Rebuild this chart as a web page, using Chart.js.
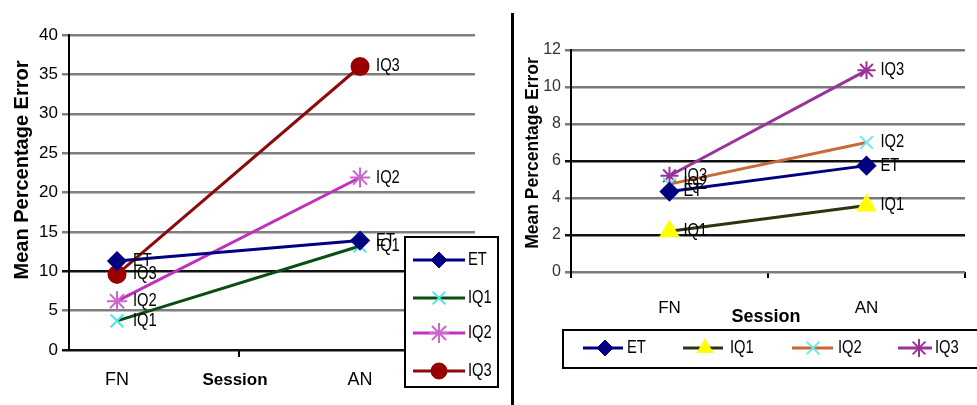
<!DOCTYPE html>
<html>
<head>
<meta charset="utf-8">
<script src="https://cdn.jsdelivr.net/npm/chart.js@4.4.0/dist/chart.umd.min.js"></script>
<style>
  body { margin: 0; background: #fff; width: 977px; height: 405px; overflow: hidden; position: relative; }
  #left { position: absolute; left: 0; top: 0; }
  #right { position: absolute; left: 515px; top: 0; }
  #divider { position: absolute; left: 511px; top: 13px; width: 3px; height: 392px; background: #000; }
</style>
</head>
<body>
<canvas id="left" width="500" height="405"></canvas>
<div id="divider"></div>
<canvas id="right" width="462" height="405"></canvas>
<script>
var sessions = ['FN', 'AN'];
var seriesNames = ['ET', 'IQ1', 'IQ2', 'IQ3'];

// left chart values
var leftET = [11.3, 13.9];
var leftIQ1 = [3.7, 13.2];
var leftIQ2 = [6.2, 21.9];
var leftIQ3 = [9.6, 36.0];

// right chart values
var rightET = [4.35, 5.75];
var rightIQ1 = [2.2, 3.6];
var rightIQ2 = [4.75, 7.0];
var rightIQ3 = [5.2, 10.9];

var NARROW = "'Liberation Sans Narrow', 'Arial Narrow', 'Liberation Sans', sans-serif";
var BOLD = "'Liberation Sans', Arial, sans-serif";
var SQUEEZE = 0.82; // no narrow face installed, so squeeze text horizontally

function narrowText(ctx, text, x, y) {
  ctx.save();
  ctx.translate(x, y);
  ctx.scale(SQUEEZE, 1);
  ctx.fillText(text, 0, 0);
  ctx.restore();
}

// label each point with its series name
function pointLabels(font, dx) {
  return {
    id: 'pointLabels',
    afterDatasetsDraw: function (chart) {
      var ctx = chart.ctx;
      ctx.save();
      ctx.font = font;
      ctx.fillStyle = '#000';
      ctx.textBaseline = 'middle';
      chart.data.datasets.forEach(function (ds, i) {
        chart.getDatasetMeta(i).data.forEach(function (pt) {
          narrowText(ctx, ds.label, pt.x + dx, pt.y);
        });
      });
      ctx.restore();
    }
  };
}

// axis titles
function texts(list) {
  return {
    id: 'texts',
    afterDraw: function (chart) {
      var ctx = chart.ctx;
      list.forEach(function (t) {
        ctx.save();
        ctx.font = t.font;
        ctx.fillStyle = '#000';
        ctx.textAlign = 'center';
        ctx.textBaseline = 'middle';
        ctx.translate(t.x, t.y);
        if (t.rotate) ctx.rotate(-Math.PI / 2);
        ctx.fillText(t.text, 0, 0);
        ctx.restore();
      });
    }
  };
}

// legend box drawn where Excel had it
function legendBox(box, items, font) {
  return {
    id: 'legendBox',
    afterDraw: function (chart) {
      var ctx = chart.ctx;
      ctx.save();
      ctx.fillStyle = '#fff';
      ctx.fillRect(box.x, box.y, box.w, box.h);
      ctx.strokeStyle = '#000';
      ctx.lineWidth = 2;
      ctx.strokeRect(box.x, box.y, box.w, box.h);
      items.forEach(function (it, i) {
        var ds = chart.data.datasets[i];
        ctx.strokeStyle = ds.borderColor;
        ctx.lineWidth = 3;
        ctx.beginPath();
        ctx.moveTo(it.x1, it.y);
        ctx.lineTo(it.x2, it.y);
        ctx.stroke();
        ctx.fillStyle = ds.pointBackgroundColor;
        ctx.strokeStyle = ds.pointBorderColor;
        ctx.lineWidth = ds.pointBorderWidth || 1;
        Chart.helpers.drawPoint(ctx, { pointStyle: ds.pointStyle, radius: ds.pointRadius, rotation: 0, borderWidth: ds.pointBorderWidth || 1 }, it.m, it.y);
        ctx.fillStyle = '#000';
        ctx.font = font;
        ctx.textBaseline = 'middle';
        narrowText(ctx, ds.label, it.t, it.y);
      });
      ctx.restore();
    }
  };
}

function toXY(arr) {
  return arr.map(function (v, i) { return { x: i, y: v }; });
}

// ---------- left chart ----------
new Chart(document.getElementById('left').getContext('2d'), {
  type: 'line',
  data: {
    datasets: [
      { label: seriesNames[0], data: toXY(leftET), borderColor: '#000080', borderWidth: 3,
        pointStyle: 'rectRot', pointRadius: 8, pointBackgroundColor: '#000080', pointBorderColor: '#000080' },
      { label: seriesNames[1], data: toXY(leftIQ1), borderColor: '#0b4d12', borderWidth: 3,
        pointStyle: 'crossRot', pointRadius: 9, pointBorderWidth: 2, pointBackgroundColor: '#4de8e8', pointBorderColor: '#4de8e8' },
      { label: seriesNames[2], data: toXY(leftIQ2), borderColor: '#c030c0', borderWidth: 3,
        pointStyle: 'star', pointRadius: 10, pointBorderWidth: 2, pointBackgroundColor: '#cc66cc', pointBorderColor: '#cc66cc' },
      { label: seriesNames[3], data: toXY(leftIQ3), borderColor: '#8b0a0a', borderWidth: 3,
        pointStyle: 'circle', pointRadius: 8, pointBackgroundColor: '#990000', pointBorderColor: '#990000' }
    ]
  },
  options: {
    responsive: false,
    animation: false,
    layout: { padding: { top: 35, right: 25, left: 0, bottom: 0 } },
    plugins: { legend: { display: false }, tooltip: { enabled: false } },
    scales: {
      x: {
        type: 'linear', min: -0.1975, max: 1.473,
        afterBuildTicks: function (s) { s.ticks = [{ value: 0 }, { value: 0.5 }, { value: 1 }]; },
        afterFit: function (s) { s.height = 55; },
        grid: { drawOnChartArea: false, tickLength: 7, lineWidth: 2,
          color: function (c) { return c.tick && c.tick.value === 0.5 ? '#000' : 'rgba(0,0,0,0)'; } },
        border: { display: false },
        ticks: { autoSkip: false, maxRotation: 0, padding: 12, color: '#000',
          font: { family: NARROW, size: 18 },
          callback: function (v) { return v === 0 ? sessions[0] : v === 1 ? sessions[1] : ''; } }
      },
      y: {
        min: 0, max: 40,
        afterFit: function (s) { s.width = 69; },
        grid: { lineWidth: 2.5, tickLength: 7,
          color: function (c) { return c.tick && (c.tick.value === 10 || c.tick.value === 0) ? '#111' : '#7f7f7f'; } },
        border: { color: '#000', width: 2 },
        ticks: { stepSize: 5, padding: 4, color: '#000', font: { family: NARROW, size: 17 } }
      }
    }
  },
  plugins: [
    pointLabels('18px ' + NARROW, 16),
    texts([
      { text: 'Mean Percentage Error', x: 22, y: 170, font: 'bold 20px ' + BOLD, rotate: true },
      { text: 'Session', x: 235, y: 380, font: 'bold 17px ' + BOLD }
    ]),
    legendBox({ x: 405, y: 237, w: 93, h: 150 }, [
      { y: 260, x1: 413, x2: 465, m: 439, t: 468 },
      { y: 298, x1: 413, x2: 465, m: 439, t: 468 },
      { y: 333, x1: 413, x2: 465, m: 439, t: 468 },
      { y: 371, x1: 413, x2: 465, m: 439, t: 468 }
    ], '18px ' + NARROW)
  ]
});

// ---------- right chart ----------
new Chart(document.getElementById('right').getContext('2d'), {
  type: 'line',
  data: {
    labels: sessions,
    datasets: [
      { label: seriesNames[0], data: rightET, borderColor: '#000080', borderWidth: 3,
        pointStyle: 'rectRot', pointRadius: 8, pointBackgroundColor: '#000080', pointBorderColor: '#000080' },
      { label: seriesNames[1], data: rightIQ1, borderColor: '#2e3310', borderWidth: 3,
        pointStyle: 'triangle', pointRadius: 9, pointBackgroundColor: '#ffff00', pointBorderColor: '#ffff00' },
      { label: seriesNames[2], data: rightIQ2, borderColor: '#c86a35', borderWidth: 3,
        pointStyle: 'crossRot', pointRadius: 9, pointBorderWidth: 2, pointBackgroundColor: '#66eeee', pointBorderColor: '#66eeee' },
      { label: seriesNames[3], data: rightIQ3, borderColor: '#993399', borderWidth: 3,
        pointStyle: 'star', pointRadius: 9, pointBorderWidth: 2, pointBackgroundColor: '#993399', pointBorderColor: '#993399' }
    ]
  },
  options: {
    responsive: false,
    animation: false,
    layout: { padding: { top: 50, right: 2, left: 0, bottom: 0 } },
    plugins: { legend: { display: false }, tooltip: { enabled: false } },
    scales: {
      x: {
        offset: true,
        afterFit: function (s) { s.height = 133; },
        grid: { offset: true, drawOnChartArea: false, tickLength: 6, lineWidth: 2, color: '#000' },
        border: { display: false },
        ticks: { padding: 20, color: '#000', font: { family: NARROW, size: 17 } }
      },
      y: {
        min: 0, max: 12,
        afterFit: function (s) { s.width = 56; },
        grid: { lineWidth: 2.5, tickLength: 6,
          color: function (c) { return c.tick && (c.tick.value === 6 || c.tick.value === 2) ? '#111' : '#7a7a7a'; } },
        border: { color: '#000', width: 2 },
        ticks: { stepSize: 2, padding: 4, color: '#333', font: { family: NARROW, size: 16 } }
      }
    }
  },
  plugins: [
    pointLabels('18px ' + NARROW, 14),
    texts([
      { text: 'Mean Percentage Error', x: 18, y: 153, font: 'bold 17.5px ' + BOLD, rotate: true },
      { text: 'Session', x: 251, y: 317, font: 'bold 18px ' + BOLD }
    ]),
    legendBox({ x: 48, y: 330, w: 420, h: 38 }, [
      { y: 348, x1: 68, x2: 108, m: 90, t: 112 },
      { y: 348, x1: 168, x2: 208, m: 190, t: 215 },
      { y: 348, x1: 277, x2: 318, m: 298, t: 323 },
      { y: 348, x1: 383, x2: 417, m: 404, t: 420 }
    ], '18px ' + NARROW)
  ]
});
</script>
</body>
</html>
